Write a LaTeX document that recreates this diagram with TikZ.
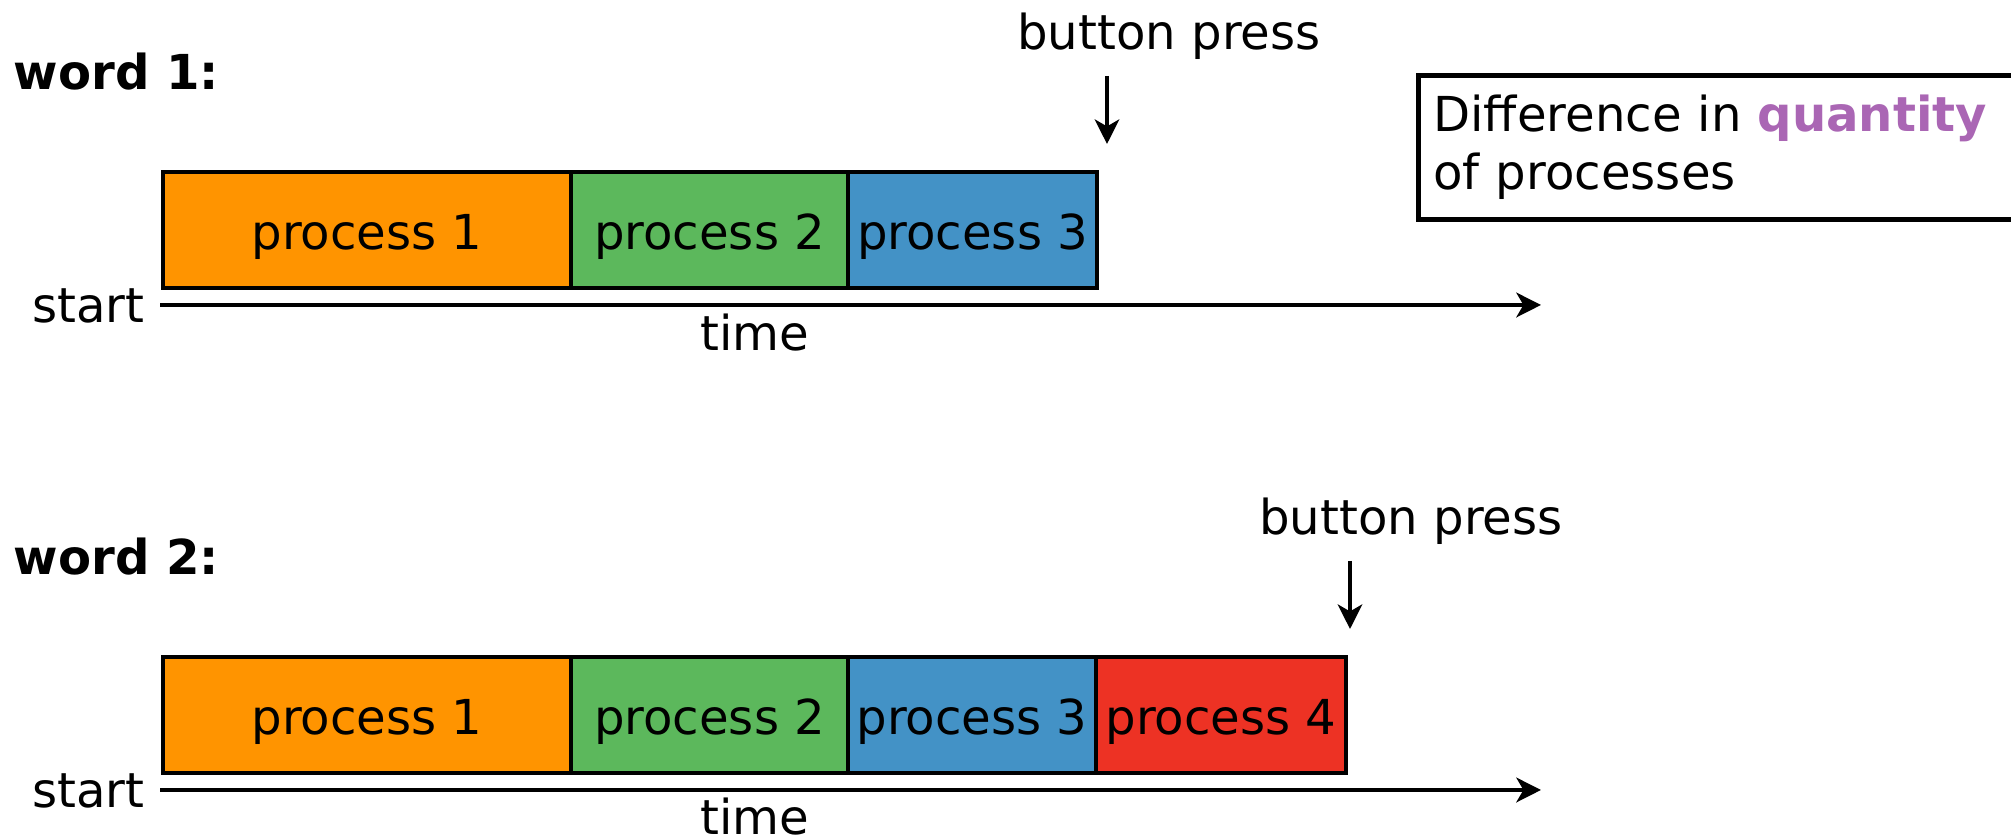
\documentclass[tikz,border=0pt]{standalone}
\usepackage{fontspec}
\setmainfont{DejaVu Sans}
\usetikzlibrary{positioning,arrows.meta}
\definecolor{procorange}{RGB}{255,148,0}
\definecolor{procgreen}{RGB}{92,184,92}
\definecolor{procblue}{RGB}{67,146,198}
\definecolor{procred}{RGB}{237,50,36}
\definecolor{quantpurple}{RGB}{170,102,180}

\begin{document}
\begin{tikzpicture}[font=\fontsize{13.7pt}{16.5pt}\selectfont,
	lbl/.style={inner sep=0pt},
	proc/.style={draw,line width=1.4pt,outer sep=0pt,inner sep=0pt,minimum height=1.16cm,text height=0.52cm,text depth=0.12cm},
	timeline/.style={line width=1.4pt,-{Stealth[length=7pt,width=7pt,inset=2pt]}},
	press/.style={line width=0.9pt,-{Stealth[length=7pt,width=7pt,inset=2pt]}}]
			\useasboundingbox (0,0) rectangle (20.11,8.38);
			
			\node[lbl,anchor=base west] (word1) at (0.13,7.48) {\bfseries word 1:};
			\node[proc,fill=procorange,minimum width=4.08cm,anchor=west] (p1a) at (1.63,6.08) {process 1};
			\node[proc,fill=procgreen,minimum width=2.77cm,right=0pt of p1a] (p2a) {process 2};
			\node[proc,fill=procblue,minimum width=2.49cm,right=0pt of p2a] (p3a) {process 3};
			\coordinate (t1s) at (1.60,5.33);
			\coordinate (t1e) at (15.41,5.33);
			\draw[timeline] (t1s)--(t1e);
			\node[lbl,anchor=base east] (start1) at (1.45,5.15) {start};
			\node[lbl,anchor=base] (time1) at (7.55,4.87) {time};
			\node[lbl,anchor=base] (press1) at (11.69,7.88) {button press};
			\coordinate (a1s) at (11.07,7.62);
			\coordinate (a1e) at (11.07,6.94);
			\draw[press] (a1s)--(a1e);
			
			\node[draw,line width=1.4pt,anchor=north west,align=left,minimum height=1.44cm,inner xsep=0.15cm,text width=6.5cm] (note) at (14.16,7.65) {Difference in \textbf{\textcolor{quantpurple}{quantity}}\\of processes};
			
			\node[lbl,anchor=base west] (word2) at (0.13,2.63) {\bfseries word 2:};
			\node[proc,fill=procorange,minimum width=4.08cm,anchor=west] (p1b) at (1.63,1.23) {process 1};
			\node[proc,fill=procgreen,minimum width=2.77cm,right=0pt of p1b] (p2b) {process 2};
			\node[proc,fill=procblue,minimum width=2.48cm,right=0pt of p2b] (p3b) {process 3};
			\node[proc,fill=procred,minimum width=2.50cm,right=0pt of p3b] (p4b) {process 4};
			\coordinate (t2s) at (1.60,0.48);
			\coordinate (t2e) at (15.41,0.48);
			\draw[timeline] (t2s)--(t2e);
			\node[lbl,anchor=base east] (start2) at (1.45,0.30) {start};
			\node[lbl,anchor=base] (time2) at (7.55,0.03) {time};
			\node[lbl,anchor=base] (press2) at (14.11,3.03) {button press};
			\coordinate (a2s) at (13.50,2.77);
			\coordinate (a2e) at (13.50,2.09);
			\draw[press] (a2s)--(a2e);
\end{tikzpicture}
\end{document}
